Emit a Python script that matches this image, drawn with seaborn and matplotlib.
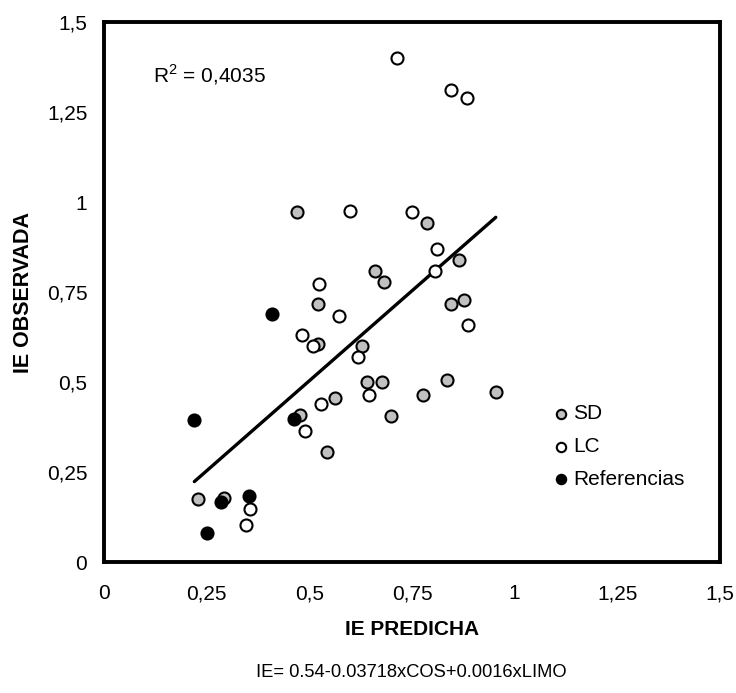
import numpy as np
import pandas as pd
import matplotlib
matplotlib.use("Agg")
import matplotlib.pyplot as plt
import seaborn as sns

# Valores (IE predicha, IE observada)
sd_pred = [0.469, 0.786, 0.865, 0.660, 0.683, 0.522, 0.844, 0.877, 0.522, 0.629, 0.641,
           0.676, 0.562, 0.834, 0.776, 0.954, 0.477, 0.698, 0.544, 0.230, 0.292]
sd_obs = [0.971, 0.941, 0.839, 0.808, 0.779, 0.716, 0.716, 0.728, 0.607, 0.600, 0.501,
          0.499, 0.457, 0.506, 0.464, 0.473, 0.408, 0.406, 0.307, 0.176, 0.179]

lc_pred = [0.713, 0.846, 0.883, 0.599, 0.749, 0.810, 0.806, 0.523, 0.573, 0.887, 0.482,
           0.510, 0.619, 0.645, 0.528, 0.489, 0.356, 0.346]
lc_obs = [1.401, 1.311, 1.288, 0.975, 0.971, 0.869, 0.808, 0.772, 0.684, 0.658, 0.632,
          0.599, 0.569, 0.464, 0.438, 0.364, 0.148, 0.103]

ref_pred = [0.410, 0.220, 0.463, 0.284, 0.354, 0.250]
ref_obs = [0.688, 0.394, 0.396, 0.166, 0.183, 0.081]

grupos = ["SD", "LC", "Referencias"]
colores = {"SD": "#c0c0c0", "LC": "white", "Referencias": "black"}

ticks = [0, 0.25, 0.5, 0.75, 1, 1.25, 1.5]
tick_labels = ["0", "0,25", "0,5", "0,75", "1", "1,25", "1,5"]

r2_texto = "R$^{2}$ = 0,4035"
ecuacion = "IE= 0.54-0.03718xCOS+0.0016xLIMO"

# Armando el DataFrame
df = pd.concat([
    pd.DataFrame({"pred": sd_pred, "obs": sd_obs, "grupo": "SD"}),
    pd.DataFrame({"pred": lc_pred, "obs": lc_obs, "grupo": "LC"}),
    pd.DataFrame({"pred": ref_pred, "obs": ref_obs, "grupo": "Referencias"}),
], ignore_index=True)

sns.set_style("white")
plt.rcParams["font.family"] = ["Liberation Sans", "DejaVu Sans"]
plt.rcParams["mathtext.fontset"] = "custom"
plt.rcParams["mathtext.rm"] = "Liberation Sans"
plt.rcParams["text.color"] = "black"
plt.rcParams["axes.labelcolor"] = "black"
plt.rcParams["xtick.labelcolor"] = "black"
plt.rcParams["ytick.labelcolor"] = "black"

fig = plt.figure(figsize=(7.36, 6.93), dpi=100)
ax = fig.add_axes([0.1413, 0.189, 0.8370, 0.7792])

# Linea de tendencia sobre todos los puntos
sns.regplot(data=df, x="pred", y="obs", scatter=False, ci=None, truncate=True,
            color="black", line_kws={"linewidth": 2.4}, ax=ax)

for g in grupos:
    sub = df[df["grupo"] == g]
    sns.scatterplot(data=sub, x="pred", y="obs", color=colores[g], edgecolor="black",
                    linewidth=1.5, s=75, label=g, ax=ax, zorder=3)

ax.set_xlim(0, 1.5)
ax.set_ylim(0, 1.5)
ax.set_xticks(ticks)
ax.set_xticklabels(tick_labels)
ax.set_yticks(ticks)
ax.set_yticklabels(tick_labels)
ax.tick_params(axis="x", length=0, pad=16, labelsize=15, labelcolor="black")
ax.tick_params(axis="y", direction="in", length=5, width=1, color="gray", pad=12,
               labelsize=15, labelcolor="black")

for s in ax.spines.values():
    s.set_linewidth(2.8)
    s.set_color("black")

ax.set_xlabel("IE PREDICHA", fontsize=15, fontweight="bold", labelpad=12, color="black")
ax.set_ylabel("IE OBSERVADA", fontsize=15.5, fontweight="bold", labelpad=9, color="black")

ax.text(0.08, 0.902, r2_texto, transform=ax.transAxes, fontsize=15, va="center", ha="left",
        color="black")

leg = ax.legend(loc="upper left", bbox_to_anchor=(0.733, 0.292), frameon=False, fontsize=15,
                markerscale=0.78, handlelength=0.55, handletextpad=0.3, labelspacing=0.66,
                borderpad=0, borderaxespad=0)
for t in leg.get_texts():
    t.set_color("black")

fig.text(0.5585, 0.017, ecuacion, ha="center", va="bottom", fontsize=13.2, color="black")

plt.savefig("out.png", dpi=100)
